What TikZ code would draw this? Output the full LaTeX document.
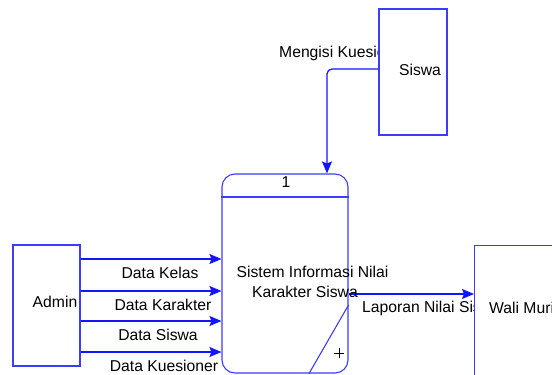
\documentclass[tikz,border=0pt]{standalone}
\usepackage{fontspec}
\setmainfont{Liberation Sans}
\usepackage{tikz}
\usepackage{xcolor}
\usetikzlibrary{calc}
\usetikzlibrary{arrows.meta}
\definecolor{boxblue}{RGB}{60,60,255}
\definecolor{flowblue}{RGB}{20,20,255}

\begin{document}
\begin{tikzpicture}
    [x=1pt, y=-1pt, font=\fontsize{15.7}{20}\selectfont,
    entity/.style={rectangle, draw=boxblue, fill=white, line width=1.1pt, inner sep=0pt},
    process/.style={rectangle, rounded corners=13pt, draw=boxblue, line width=1.1pt, inner sep=0pt},
    flow/.style={draw=flowblue, line width=1.2pt, -{Stealth[length=12pt, width=10pt, inset=2pt]}},
    flowlabel/.style={anchor=base, inner sep=0pt}]
    \useasboundingbox (0,0) rectangle (552,375);
    % process
    \node(proc)[process, minimum width=126, minimum height=199] at (285,273.5) {};
    \draw[boxblue, line width=1.1pt] (proc.west |- 0,197) -- (proc.east |- 0,197);
    \draw[boxblue, line width=1.1pt] (proc.east |- 0,305) -- (proc.south -| 309,0);
    \node(procnum)[flowlabel] at (286,187.5) {1};
    \draw[line width=0.7pt] (334,353) -- (344,353) (339,348) -- (339,358);
    % siswa
    \node(lblisi)[flowlabel, anchor=base west] at (279,57.5) {Mengisi Kuesioner};
    \node(siswa)[entity, minimum width=68, minimum height=126] at (413,72) {};
    \node(siswatext)[flowlabel] at (420,75.5) {Siswa};
    \draw[flow, rounded corners=5pt] (siswa.west |- 0,69) -| (proc.north -| 327,0);
    % admin
    \node(admin)[entity, minimum width=67, minimum height=121] at (46.5,305.5) {};
    \node(admintext)[flowlabel] at (55,307.5) {Admin};
    \foreach \y/\lx/\lb/\txt in {259/160/278/Data Kelas,291/163/310.5/Data Karakter,321/158/340.5/Data Siswa,352/164/371.5/Data Kuesioner}{
        \draw[flow] (admin.east |- 0,\y) -- (proc.west |- 0,\y);
        \node(lbl\y)[flowlabel] at (\lx,\lb) {\txt};
    }
    % wali murid
    \node(lbllap)[flowlabel, anchor=base west] at (362,312.5) {Laporan Nilai Siswa};
    \draw[flow] (proc.east |- 0,294) -- (474,294) coordinate (walientry);
    \node(wali)[entity, anchor=north west, minimum width=102, minimum height=140] at (walientry |- 0,245) {};
    \node(walitext)[flowlabel, anchor=base west] at (489,313.5) {Wali Murid};
    \node(proctext1)[flowlabel] at (312.5,277.5) {Sistem Informasi Nilai};
    \node(proctext2)[flowlabel] at (305,297.5) {Karakter Siswa};
\end{tikzpicture}
\end{document}
